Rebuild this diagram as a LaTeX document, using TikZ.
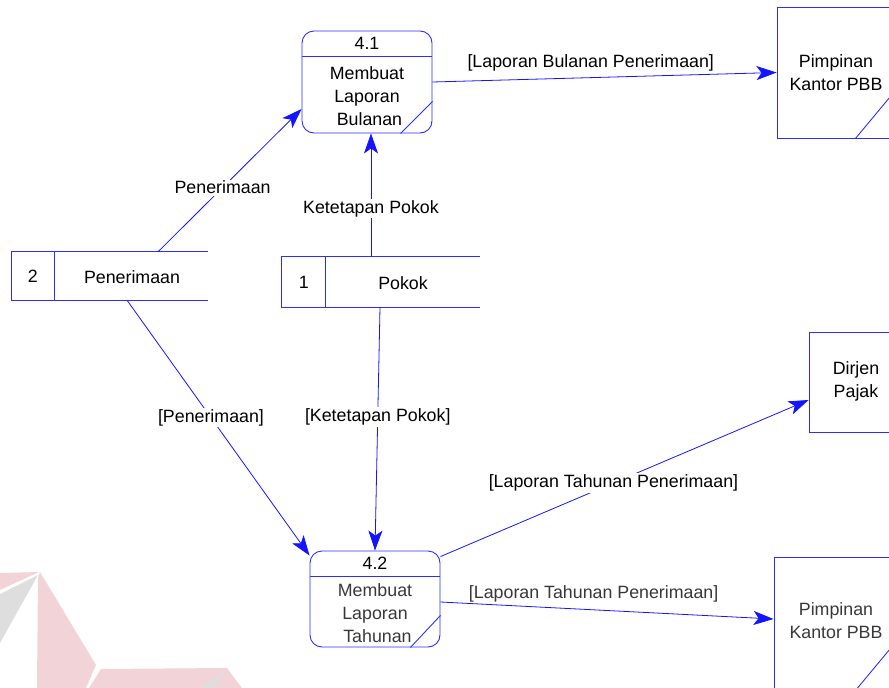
\documentclass[tikz,border=0pt]{standalone}
\usepackage{fontspec}
\setmainfont{Liberation Sans}
\usetikzlibrary{arrows.meta}
\definecolor{dfdline}{RGB}{45,45,255}
\definecolor{flowblue}{RGB}{20,20,255}
\definecolor{wmpink}{RGB}{242,212,216}
\definecolor{wmgray}{RGB}{222,222,222}
\begin{document}
\begin{tikzpicture}[x=1pt,y=-1pt,
  font=\fontsize{17.8}{23}\selectfont,
  outline/.style={draw=dfdline, line width=0.9pt},
  procbox/.style={outline, rounded corners=12pt, inner sep=0pt},
  entbox/.style={outline, inner sep=0pt},
  storebox/.style={inner sep=0pt},
  flow/.style={draw=flowblue, line width=0.8pt,
    -{Stealth[length=20pt,width=14pt,inset=5pt]}},
  flowlabel/.style={fill=white, inner sep=1.5pt, text=black},
  grey text/.style={text=black!78}
]
\useasboundingbox (0,0) rectangle (889,688);

% faint logo in the lower left corner
\fill[wmpink] (0,573) -- (39,572) -- (0,590) -- cycle;
\fill[wmgray] (0,594) -- (38,575) -- (0,643) -- cycle;
\fill[wmpink] (38,578) -- (40,572) -- (96,665) -- (86,688) -- (37,688) -- cycle;
\fill[wmpink] (101,669) -- (227,668) -- (242,688) -- (89,688) -- cycle;
\fill[wmgray] (226,670) -- (200,688) -- (214,688) -- cycle;

\begin{scope}
\clip (0,0) rectangle (889,688);

% processes
\node[procbox, minimum width=130pt, minimum height=102pt] (p41) at (367,82) {};
\draw[outline] ([yshift=-26pt]p41.north west) -- ([yshift=-26pt]p41.north east);
\draw[outline] ([yshift=32pt]p41.south east) -- ([xshift=-32pt]p41.south east);
\node at ([yshift=-13pt]p41.north) {4.1};
\node[align=center] at (367,96) {Membuat\\Laporan\\\ Bulanan};

\node[procbox, minimum width=130pt, minimum height=96pt] (p42) at (375,599) {};
\draw[outline] ([yshift=-26pt]p42.north west) -- ([yshift=-26pt]p42.north east);
\draw[outline] ([yshift=32pt]p42.south east) -- ([xshift=-30pt]p42.south east);
\node at ([yshift=-13pt]p42.north) {4.2};
\node[align=center, grey text] at (375,613) {Membuat\\Laporan\\\ Tahunan};

% external entities
\node[entbox, minimum width=118pt, minimum height=131pt] (ent1) at (836,72.5) {};
\node[align=center] at (836,72.5) {Pimpinan\\Kantor PBB};
\draw[outline] ([yshift=48pt]ent1.south east) -- ([xshift=-40pt]ent1.south east);

\node[entbox, minimum width=94pt, minimum height=100pt] (dj) at (856,382) {};
\node[align=center] at (856,381) {Dirjen\\Pajak};

\node[entbox, minimum width=121pt, minimum height=133pt] (ent2) at (834.5,623.5) {};
\node[align=center, grey text] at (836,621) {Pimpinan\\Kantor PBB};
\draw[outline] ([yshift=48pt]ent2.south east) -- ([xshift=-40pt]ent2.south east);

% data stores
\node[storebox, minimum width=196pt, minimum height=48pt] (st2) at (110,276) {};
\draw[outline] (st2.north east) -- (st2.north west) -- (st2.south west) -- (st2.south east);
\draw[outline] ([xshift=43pt]st2.north west) -- ([xshift=43pt]st2.south west);
\node at ([xshift=21pt]st2.west) {2};
\node at (132,277) {Penerimaan};

\node[storebox, minimum width=198pt, minimum height=50pt] (st1) at (381,282) {};
\draw[outline] (st1.north east) -- (st1.north west) -- (st1.south west) -- (st1.south east);
\draw[outline] ([xshift=44pt]st1.north west) -- ([xshift=44pt]st1.south west);
\node at ([xshift=22pt]st1.west) {1};
\node at (403,283) {Pokok};

% data flows
\draw[flow] ([xshift=48pt]st2.north) -- node[flowlabel, pos=0.45] {Penerimaan} ([yshift=-27pt]p41.west);
\draw[flow] ([xshift=-10pt]st1.north) -- node[flowlabel, pos=0.39] {Ketetapan Pokok} ([xshift=4pt]p41.south);
\draw[flow] (p41.east) -- node[flowlabel, above=5pt, pos=0.46] {[Laporan Bulanan Penerimaan]} (ent1.west);
\draw[flow] ([xshift=17pt]st2.south) -- node[flowlabel, pos=0.46] {[Penerimaan]} ([yshift=-5pt]p42.north west);
\draw[flow] ([xshift=-1pt]st1.south) -- node[flowlabel, pos=0.45] {[Ketetapan Pokok]} (p42.north);
\draw[flow] ([yshift=-6pt]p42.north east) -- node[flowlabel, pos=0.47] {[Laporan Tahunan Penerimaan]} ([yshift=-18pt]dj.west);
\draw[flow] ([yshift=-3pt]p42.east) -- node[flowlabel, grey text, above=6pt, pos=0.46] {[Laporan Tahunan Penerimaan]} ([yshift=4.5pt]ent2.west);
\end{scope}
\end{tikzpicture}
\end{document}
